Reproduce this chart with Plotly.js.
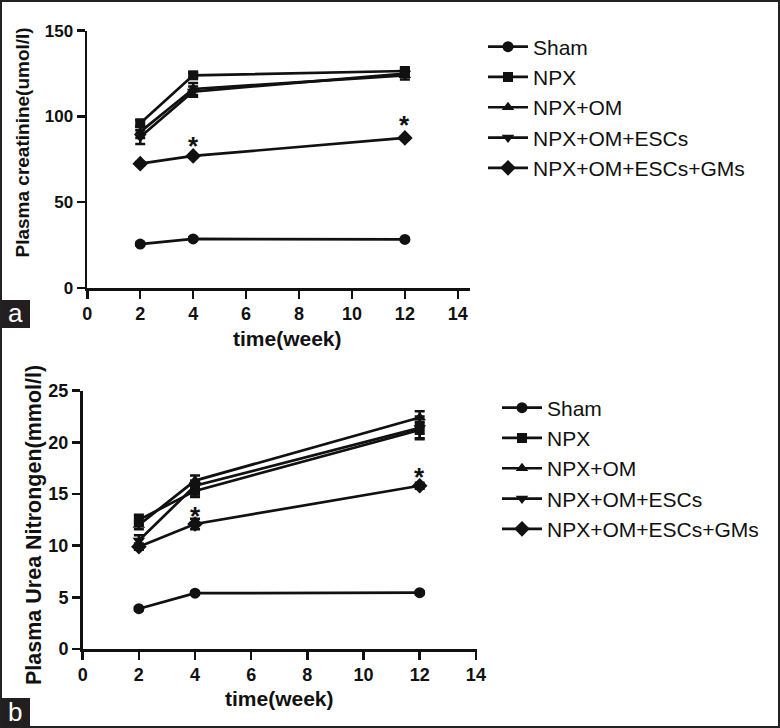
<!DOCTYPE html>
<html>
<head>
<meta charset="utf-8">
<script src="https://cdn.plot.ly/plotly-3.0.1.min.js"></script>
<style>html,body{margin:0;padding:0;background:#fff;}#chart{width:780px;height:728px;}</style>
</head>
<body>
<div id="chart"></div>
<script>
// ---------- data ----------
const weeks = [2, 4, 12];
const groups = ["Sham", "NPX", "NPX+OM", "NPX+OM+ESCs", "NPX+OM+ESCs+GMs"];
const symbols = ["circle", "square", "triangle-up", "triangle-down", "diamond"];

// Panel a: plasma creatinine (umol/l)
const creatSham = [25.6, 28.6, 28.3];
const creatNPX = [96, 124, 126.5];
const creatOM = [91, 116, 124];
const creatESCs = [88, 114.5, 125];
const creatGMs = [72.5, 77, 87.5];
const creatShamErr = [0.8, 0.8, 0.8];
const creatNPXErr = [2, 1.5, 1.5];
const creatOMErr = [3.5, 3.5, 2.5];
const creatESCsErr = [4, 3, 2];
const creatGMsErr = [1, 1, 1];

// Panel b: plasma urea nitrogen (mmol/l)
const bunSham = [3.9, 5.4, 5.45];
const bunNPX = [12.5, 15.3, 21.2];
const bunOM = [12.0, 16.3, 22.4];
const bunESCs = [10.5, 15.8, 21.4];
const bunGMs = [9.9, 12.1, 15.8];
const bunShamErr = [0.15, 0.15, 0.15];
const bunNPXErr = [0.5, 0.6, 0.8];
const bunOMErr = [0.4, 0.5, 0.6];
const bunESCsErr = [0.5, 0.5, 1.1];
const bunGMsErr = [0.3, 0.5, 0.3];

// significance markers
const starXa = [4, 12];
const starYa = [86.3, 98.3];
const starXb = [4, 12];
const starYb = [13.5, 17.2];

const xTicksA = [0, 2, 4, 6, 8, 10, 12, 14];
const yTicksA = [0, 50, 100, 150];
const xTicksB = [0, 2, 4, 6, 8, 10, 12, 14];
const yTicksB = [0, 5, 10, 15, 20, 25];

// ---------- build ----------
const W = 780, H = 728;
const px = v => v / W;
const py = v => 1 - v / H;
const FONT = "Liberation Sans, Arial, Helvetica, sans-serif";
const BLACK = "#111";

const seriesA = [creatSham, creatNPX, creatOM, creatESCs, creatGMs];
const errA = [creatShamErr, creatNPXErr, creatOMErr, creatESCsErr, creatGMsErr];
const seriesB = [bunSham, bunNPX, bunOM, bunESCs, bunGMs];
const errB = [bunShamErr, bunNPXErr, bunOMErr, bunESCsErr, bunGMsErr];
const sizes = [11, 10, 11, 11, 12];

const traces = [];
groups.forEach((g, i) => {
  traces.push({
    x: weeks, y: seriesA[i], name: g, type: "scatter", mode: "lines+markers",
    xaxis: "x", yaxis: "y", legend: "legend",
    line: {color: BLACK, width: 2.7},
    marker: {symbol: symbols[i], size: sizes[i], color: BLACK},
    error_y: {type: "data", array: errA[i], visible: true, color: BLACK, thickness: 2.5, width: 5},
    cliponaxis: false
  });
});
groups.forEach((g, i) => {
  traces.push({
    x: weeks, y: seriesB[i], name: g, type: "scatter", mode: "lines+markers",
    xaxis: "x2", yaxis: "y2", legend: "legend2",
    line: {color: BLACK, width: 2.7},
    marker: {symbol: symbols[i], size: sizes[i], color: BLACK},
    error_y: {type: "data", array: errB[i], visible: true, color: BLACK, thickness: 2.5, width: 5},
    cliponaxis: false
  });
});

const axisCommon = {
  showgrid: false, zeroline: false, showline: true, linecolor: BLACK, linewidth: 2.7,
  ticks: "outside", ticklen: 8, tickwidth: 2.5, tickcolor: BLACK,
  tickfont: {family: FONT, size: 18, color: BLACK, weight: "bold"},
  tickmode: "array", fixedrange: true
};

const annotations = [];
starXa.forEach((x, i) => annotations.push({x: x, y: starYa[i], xref: "x", yref: "y", text: "*", showarrow: false,
  font: {family: FONT, size: 26, color: BLACK, weight: "bold"}, xanchor: "center", yanchor: "middle", yshift: -6}));
starXb.forEach((x, i) => annotations.push({x: x, y: starYb[i], xref: "x2", yref: "y2", text: "*", showarrow: false,
  font: {family: FONT, size: 26, color: BLACK, weight: "bold"}, xanchor: "center", yanchor: "middle", yshift: -6}));

// axis titles
annotations.push({x: px(22.5), y: py(143), xref: "paper", yref: "paper", text: "Plasma creatinine(umol/l)", textangle: -90,
  showarrow: false, xanchor: "center", yanchor: "middle", font: {family: FONT, size: 19, color: BLACK, weight: "bold"}});
annotations.push({x: px(34), y: py(525), xref: "paper", yref: "paper", text: "Plasma Urea Nitrongen(mmol/l)", textangle: -90,
  showarrow: false, xanchor: "center", yanchor: "middle", font: {family: FONT, size: 21.5, color: BLACK, weight: "bold"}});
annotations.push({x: px(287.5), y: py(338), xref: "paper", yref: "paper", text: "time(week)",
  showarrow: false, xanchor: "center", yanchor: "middle", font: {family: FONT, size: 21, color: BLACK, weight: "bold"}});
annotations.push({x: px(279), y: py(698), xref: "paper", yref: "paper", text: "time(week)",
  showarrow: false, xanchor: "center", yanchor: "middle", font: {family: FONT, size: 21, color: BLACK, weight: "bold"}});
// panel letters
annotations.push({x: px(15), y: py(313), xref: "paper", yref: "paper", text: "a",
  showarrow: false, xanchor: "center", yanchor: "middle", font: {family: FONT, size: 26, color: "#fff"}});
annotations.push({x: px(15), y: py(712), xref: "paper", yref: "paper", text: "b",
  showarrow: false, xanchor: "center", yanchor: "middle", font: {family: FONT, size: 26, color: "#fff"}});

const shapes = [
  {type: "rect", xref: "paper", yref: "paper", x0: 0, x1: px(30), y0: py(328), y1: py(300), fillcolor: "#231f20", line: {width: 0}, layer: "below"},
  {type: "rect", xref: "paper", yref: "paper", x0: 0, x1: px(30), y0: py(728), y1: py(698), fillcolor: "#231f20", line: {width: 0}, layer: "below"},
  {type: "rect", xref: "paper", yref: "paper", x0: 0, x1: 1, y0: 0, y1: 1, fillcolor: "rgba(0,0,0,0)", line: {width: 4, color: "#222"}}
];

const legendCommon = {
  font: {family: FONT, size: 21, color: BLACK}, bgcolor: "rgba(0,0,0,0)", borderwidth: 0,
  xanchor: "left", yanchor: "top", itemwidth: 40, tracegroupgap: 0, traceorder: "normal"
};

const layout = {
  width: W, height: H, margin: {l: 0, r: 0, t: 0, b: 0},
  paper_bgcolor: "#fff", plot_bgcolor: "rgba(0,0,0,0)", showlegend: true,
  font: {family: FONT, color: BLACK},
  xaxis: Object.assign({}, axisCommon, {domain: [px(87.3), px(470)], range: [0, 14.46], tickvals: xTicksA, anchor: "y"}),
  yaxis: Object.assign({}, axisCommon, {domain: [py(288), py(30.7)], range: [0, 150], tickvals: yTicksA, anchor: "x",
    tickfont: {family: FONT, size: 17, color: BLACK, weight: "bold"}}),
  xaxis2: Object.assign({}, axisCommon, {domain: [px(82.7), px(477)], range: [0, 14.04], tickvals: xTicksB, anchor: "y2"}),
  yaxis2: Object.assign({}, axisCommon, {domain: [py(649), py(390.7)], range: [0, 25], tickvals: yTicksB, anchor: "x2"}),
  legend: Object.assign({}, legendCommon, {x: px(483), y: py(26.5)}),
  legend2: Object.assign({}, legendCommon, {x: px(497), y: py(387.5)}),
  annotations: annotations,
  shapes: shapes
};

Plotly.newPlot("chart", traces, layout, {displayModeBar: false, staticPlot: true});
</script>
</body>
</html>
